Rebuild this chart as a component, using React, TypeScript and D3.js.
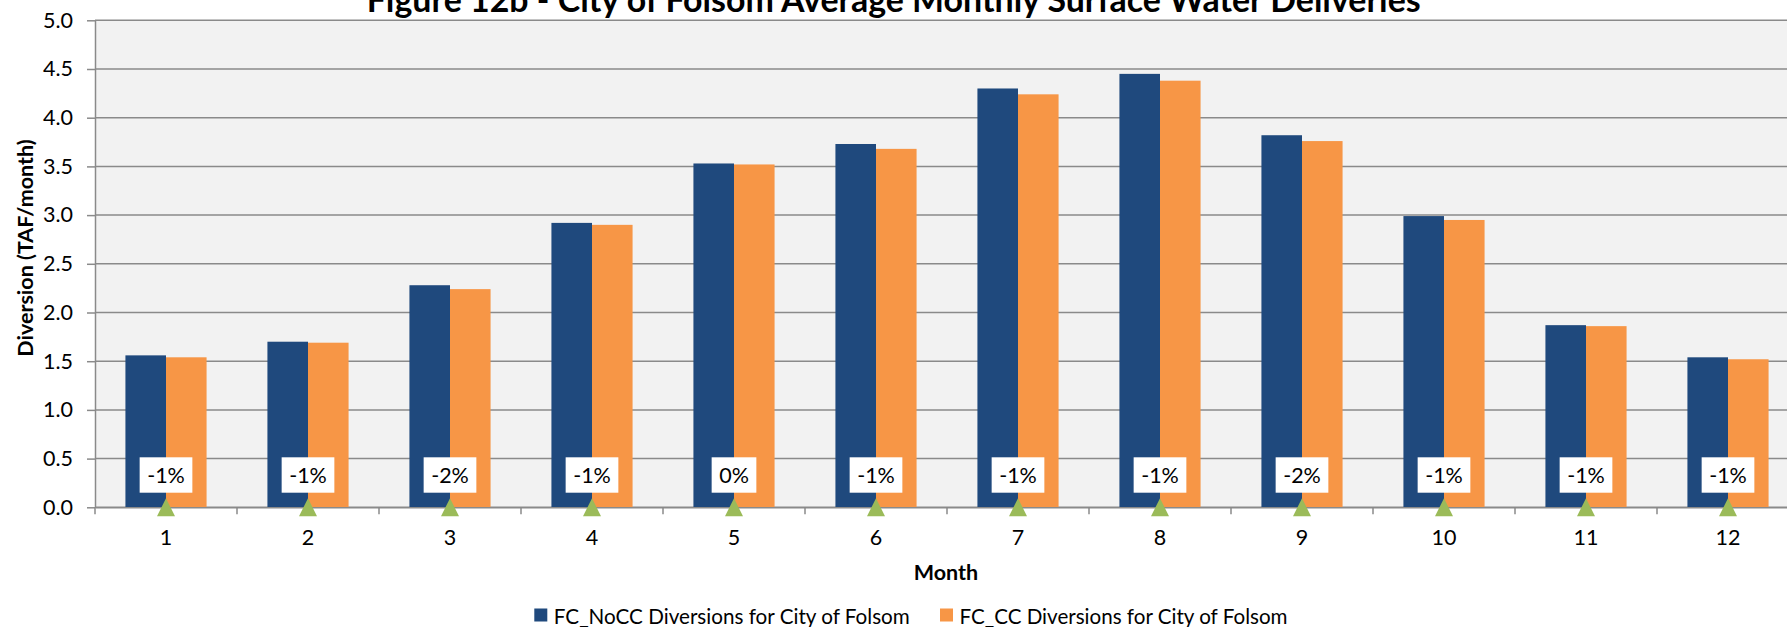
import React, { useRef, useEffect } from 'react';
import * as d3 from 'd3';

// Month categories and the two diversion series (TAF/month)
const months = ['1', '2', '3', '4', '5', '6', '7', '8', '9', '10', '11', '12'];
const noccValues = [1.56, 1.70, 2.28, 2.92, 3.53, 3.73, 4.30, 4.45, 3.82, 2.99, 1.87, 1.54];
const ccValues = [1.54, 1.69, 2.24, 2.90, 3.52, 3.68, 4.24, 4.38, 3.76, 2.95, 1.86, 1.52];
const pctLabels = ['-1%', '-1%', '-2%', '-1%', '0%', '-1%', '-1%', '-1%', '-2%', '-1%', '-1%', '-1%'];
const yTicks = [0, 0.5, 1, 1.5, 2, 2.5, 3, 3.5, 4, 4.5, 5];
const seriesNames = ['FC_NoCC Diversions for City of Folsom', 'FC_CC Diversions for City of Folsom'];
const seriesColors = ['#1F497D', '#F79646'];

const FONT = 'Lato, "Open Sans", sans-serif';

const App = () => {
  const svgRef = useRef<SVGSVGElement>(null);

  useEffect(() => {
    const width = 1787;
    const height = 627;
    const plot = { left: 95, top: 20.3, bottom: 507.3, step: 142 };
    const plotRight = plot.left + plot.step * months.length;

    const svg = d3.select(svgRef.current);
    svg.selectAll('*').remove();
    svg.attr('width', width).attr('height', height);

    const x = d3.scaleBand().domain(months).range([plot.left, plotRight]);
    const y = d3.scaleLinear().domain([0, 5]).range([plot.bottom, plot.top]);
    const bw = x.bandwidth();
    const barW = bw / 3.5;
    const x1 = d3.scaleBand().domain(['0', '1']).range([-barW, barW]);

    // plot background
    svg.append('rect')
      .attr('x', plot.left)
      .attr('y', plot.top)
      .attr('width', plotRight - plot.left)
      .attr('height', plot.bottom - plot.top)
      .attr('fill', '#F2F2F2');

    // gridlines
    svg.append('g')
      .selectAll('line')
      .data(yTicks)
      .enter()
      .append('line')
      .attr('x1', plot.left)
      .attr('x2', plotRight)
      .attr('y1', d => y(d))
      .attr('y2', d => y(d))
      .attr('stroke', '#8A8A8A')
      .attr('stroke-width', 1.5);

    // y axis
    const yAxis = svg.append('g')
      .attr('transform', `translate(${plot.left},0)`)
      .call(d3.axisLeft(y).tickValues(yTicks).tickFormat(d3.format('.1f')).tickSize(8).tickPadding(14).tickSizeOuter(0));
    yAxis.select('.domain').attr('stroke', '#8A8A8A').attr('stroke-width', 1.5);
    yAxis.selectAll('.tick line').attr('stroke', '#8A8A8A').attr('stroke-width', 1.5);
    yAxis.selectAll('text').attr('font-family', FONT).attr('font-size', 21.5).attr('fill', '#000');

    // bars
    const series = [noccValues, ccValues];
    series.forEach((vals, si) => {
      svg.append('g')
        .selectAll('rect')
        .data(vals)
        .enter()
        .append('rect')
        .attr('x', (d, i) => (x(months[i]) as number) + bw / 2 + (x1(String(si)) as number))
        .attr('y', d => y(d))
        .attr('width', x1.bandwidth())
        .attr('height', d => y(0) - y(d))
        .attr('fill', seriesColors[si]);
    });

    // x axis
    const xAxis = svg.append('g')
      .attr('transform', `translate(0,${plot.bottom})`)
      .call(d3.axisBottom(x).tickSize(0).tickPadding(22).tickSizeOuter(0));
    xAxis.select('.domain').attr('stroke', '#8A8A8A').attr('stroke-width', 1.5);
    xAxis.selectAll('text').attr('font-family', FONT).attr('font-size', 21.5).attr('fill', '#000');

    // category boundary tick marks
    svg.append('g')
      .selectAll('line')
      .data(months)
      .enter()
      .append('line')
      .attr('x1', d => x(d) as number)
      .attr('x2', d => x(d) as number)
      .attr('y1', plot.bottom)
      .attr('y2', plot.bottom + 7)
      .attr('stroke', '#8A8A8A')
      .attr('stroke-width', 1.5);

    // percent change labels
    const labels = svg.append('g')
      .selectAll('g')
      .data(pctLabels)
      .enter()
      .append('g')
      .attr('transform', (d, i) => `translate(${(x(months[i]) as number) + bw / 2},${y(0) - 32.3})`);
    labels.append('rect').attr('fill', '#fff');
    labels.append('text')
      .text(d => d)
      .attr('text-anchor', 'middle')
      .attr('dominant-baseline', 'central')
      .attr('font-family', FONT)
      .attr('font-size', 21.5)
      .attr('fill', '#000');
    labels.each(function () {
      const g = d3.select(this);
      const tw = (g.select('text').node() as SVGTextElement).getComputedTextLength();
      g.select('rect')
        .attr('x', -tw / 2 - 7.5)
        .attr('y', -17.7)
        .attr('width', tw + 15)
        .attr('height', 35.4);
    });

    // triangle markers at zero
    svg.append('g')
      .selectAll('path')
      .data(months)
      .enter()
      .append('path')
      .attr('d', d => {
        const cx = (x(d) as number) + bw / 2;
        const cy = y(0);
        return `M${cx - 9},${cy + 9}L${cx},${cy - 9}L${cx + 9},${cy + 9}Z`;
      })
      .attr('fill', '#9BBB59');

    // title (its top is cut by the frame, as in the source figure)
    svg.append('text')
      .attr('x', 893.7)
      .attr('y', 11.7)
      .attr('text-anchor', 'middle')
      .attr('font-family', FONT)
      .attr('font-weight', 'bold')
      .attr('font-size', 35)
      .attr('textLength', 1054)
      .attr('lengthAdjust', 'spacingAndGlyphs')
      .text('Figure 12b - City of Folsom Average Monthly Surface Water Deliveries');

    // axis titles
    svg.append('text')
      .attr('transform', 'translate(25,248) rotate(-90)')
      .attr('text-anchor', 'middle')
      .attr('dominant-baseline', 'central')
      .attr('font-family', FONT)
      .attr('font-weight', 'bold')
      .attr('font-size', 21.5)
      .text('Diversion (TAF/month)');

    svg.append('text')
      .attr('x', 946)
      .attr('y', 572)
      .attr('text-anchor', 'middle')
      .attr('dominant-baseline', 'central')
      .attr('font-family', FONT)
      .attr('font-weight', 'bold')
      .attr('font-size', 21.5)
      .text('Month');

    // legend
    const legendX = [534.3, 940];
    const legend = svg.append('g')
      .selectAll('g')
      .data(seriesNames)
      .enter()
      .append('g')
      .attr('transform', (d, i) => `translate(${legendX[i]},608.5)`);
    legend.append('rect')
      .attr('width', 13)
      .attr('height', 13)
      .attr('fill', (d, i) => seriesColors[i]);
    legend.append('text')
      .attr('x', 19.5)
      .attr('y', 6.5)
      .attr('dominant-baseline', 'central')
      .attr('font-family', FONT)
      .attr('font-size', 21)
      .attr('textLength', (d, i) => (i === 0 ? 356 : 328))
      .attr('lengthAdjust', 'spacingAndGlyphs')
      .text(d => d);
  }, []);

  return (
    <div>
      <svg ref={svgRef} style={{ position: 'absolute', left: 0, top: 0 }}></svg>
    </div>
  );
};

export default App;
